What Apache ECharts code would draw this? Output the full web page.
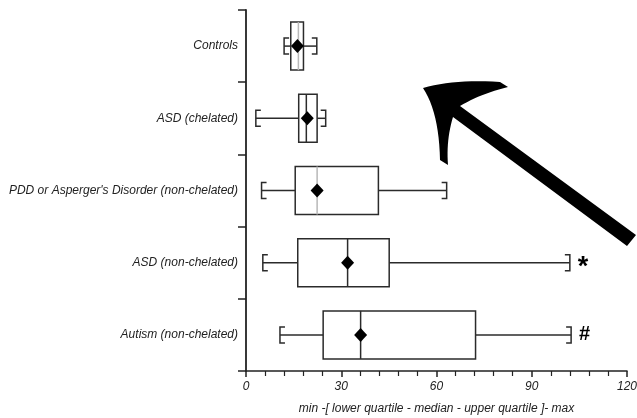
<!DOCTYPE html>
<html>
<head>
<meta charset="utf-8">
<style>
  html, body { margin: 0; padding: 0; background: #fff; }
  #chart { width: 637px; height: 418px; }
</style>
<script src="https://cdn.jsdelivr.net/npm/echarts@6/dist/echarts.min.js"></script>
</head>
<body>
<div id="chart"></div>
<script>
// 各组数据
var categories = ['Controls', 'ASD (chelated)', "PDD or Asperger's Disorder (non-chelated)", 'ASD (non-chelated)', 'Autism (non-chelated)'];
var minValues = [12.0, 3.1, 4.9, 5.3, 10.7];
var q1Values = [14.1, 16.6, 15.5, 16.3, 24.3];
var medianValues = [16.5, 19.0, 22.4, 32.0, 36.1];
var q3Values = [18.1, 22.4, 41.7, 45.1, 72.3];
var maxValues = [22.3, 25.1, 63.2, 102.0, 102.4];
var meanValues = [16.2, 19.3, 22.4, 32.0, 36.1];
var significance = ['', '', '', '*', '#'];
var xTicks = [0, 30, 60, 90, 120];

// 中位线颜色（有的组是浅灰色）
var medianLineColors = ['#b8b8b8', '#2b2b2b', '#b8b8b8', '#2b2b2b', '#2b2b2b'];

var chart = echarts.init(document.getElementById('chart'));

var rows = categories.map(function (c, i) {
  return [i, minValues[i], q1Values[i], medianValues[i], q3Values[i], maxValues[i], meanValues[i]];
});

var FONT = '"Liberation Sans", Arial, sans-serif';
var INK = '#2b2b2b';

function renderBox(params, api) {
  var i = api.value(0);
  var y = api.coord([0, i])[1];
  var pMin = api.coord([api.value(1), i])[0];
  var pQ1 = api.coord([api.value(2), i])[0];
  var pMed = api.coord([api.value(3), i])[0];
  var pQ3 = api.coord([api.value(4), i])[0];
  var pMax = api.coord([api.value(5), i])[0];
  var pMean = api.coord([api.value(6), i])[0];
  var half = 24, cap = 8, serif = 5;
  var stroke = { stroke: INK, lineWidth: 1.5, fill: null };

  var children = [
    { type: 'line', shape: { x1: pMin, y1: y, x2: pQ1, y2: y }, style: stroke },
    { type: 'line', shape: { x1: pQ3, y1: y, x2: pMax, y2: y }, style: stroke },
    { type: 'polyline', shape: { points: [[pMin + serif, y - cap], [pMin, y - cap], [pMin, y + cap], [pMin + serif, y + cap]] }, style: stroke },
    { type: 'polyline', shape: { points: [[pMax - serif, y - cap], [pMax, y - cap], [pMax, y + cap], [pMax - serif, y + cap]] }, style: stroke },
    { type: 'rect', shape: { x: pQ1, y: y - half, width: pQ3 - pQ1, height: half * 2 }, style: { fill: '#fff', stroke: INK, lineWidth: 1.5 } },
    { type: 'line', shape: { x1: pMed, y1: y - half, x2: pMed, y2: y + half }, style: { stroke: medianLineColors[i], lineWidth: 1.5 } },
    { type: 'polygon', shape: { points: [[pMean, y - 7], [pMean + 6.5, y], [pMean, y + 7], [pMean - 6.5, y]] }, style: { fill: '#000' } }
  ];
  if (significance[i]) {
    children.push({
      type: 'text',
      style: {
        text: significance[i],
        x: pMax + 8,
        y: significance[i] === '*' ? y + 5 : y,
        font: 'bold ' + (significance[i] === '*' ? 27 : 20) + 'px ' + FONT,
        fill: '#000',
        verticalAlign: 'middle'
      }
    });
  }
  return { type: 'group', children: children };
}

// 二次曲线取点，用于画箭头轮廓
function quad(p0, c, p1, n) {
  var pts = [];
  for (var k = 1; k <= n; k++) {
    var t = k / n, u = 1 - t;
    pts.push([u * u * p0[0] + 2 * u * t * c[0] + t * t * p1[0], u * u * p0[1] + 2 * u * t * c[1] + t * t * p1[1]]);
  }
  return pts;
}

var tip = [423, 88];
var arrowPts = [tip]
  .concat(quad(tip, [455, 79], [500, 82], 12))
  .concat([[508, 87]])
  .concat(quad([508, 87], [480, 94], [460, 106], 12))
  .concat([[636, 235], [627, 246], [453, 117]])
  .concat(quad([453, 117], [446, 140], [448, 165], 12))
  .concat([[440, 160]])
  .concat(quad([440, 160], [439, 112], tip, 12));

var option = {
  backgroundColor: '#fff',
  animation: false,
  grid: { left: 246, right: 10, top: 10, bottom: 47, containLabel: false, outerBoundsMode: 'none' },
  xAxis: {
    type: 'value',
    min: xTicks[0],
    max: xTicks[xTicks.length - 1],
    interval: xTicks[1] - xTicks[0],
    name: 'min -[ lower quartile - median - upper quartile ]- max',
    nameLocation: 'middle',
    nameGap: 32,
    nameTextStyle: { fontFamily: FONT, fontStyle: 'italic', fontSize: 12, color: '#222' },
    axisLine: { show: true, lineStyle: { color: '#222', width: 1.5 } },
    axisTick: { show: true, length: 6, lineStyle: { color: '#222', width: 1.5 } },
    minorTick: { show: true, splitNumber: 5, length: 5, lineStyle: { color: '#222', width: 1.2 } },
    axisLabel: { fontFamily: FONT, fontStyle: 'italic', fontSize: 12, color: '#222', margin: 10 },
    splitLine: { show: false }
  },
  yAxis: {
    type: 'category',
    data: categories,
    inverse: true,
    axisLine: { show: true, lineStyle: { color: '#222', width: 1.8 } },
    axisTick: { show: true, alignWithLabel: false, length: 8, lineStyle: { color: '#222', width: 1.5 } },
    axisLabel: { fontFamily: FONT, fontStyle: 'italic', fontSize: 12, color: '#222', margin: 8 },
    splitLine: { show: false }
  },
  series: [{
    type: 'custom',
    renderItem: renderBox,
    encode: { x: [1, 2, 3, 4, 5, 6], y: 0 },
    data: rows
  }],
  graphic: [{
    // 大箭头
    type: 'polygon',
    shape: { points: arrowPts },
    style: { fill: '#000' }
  }]
};

chart.setOption(option);
</script>
</body>
</html>
